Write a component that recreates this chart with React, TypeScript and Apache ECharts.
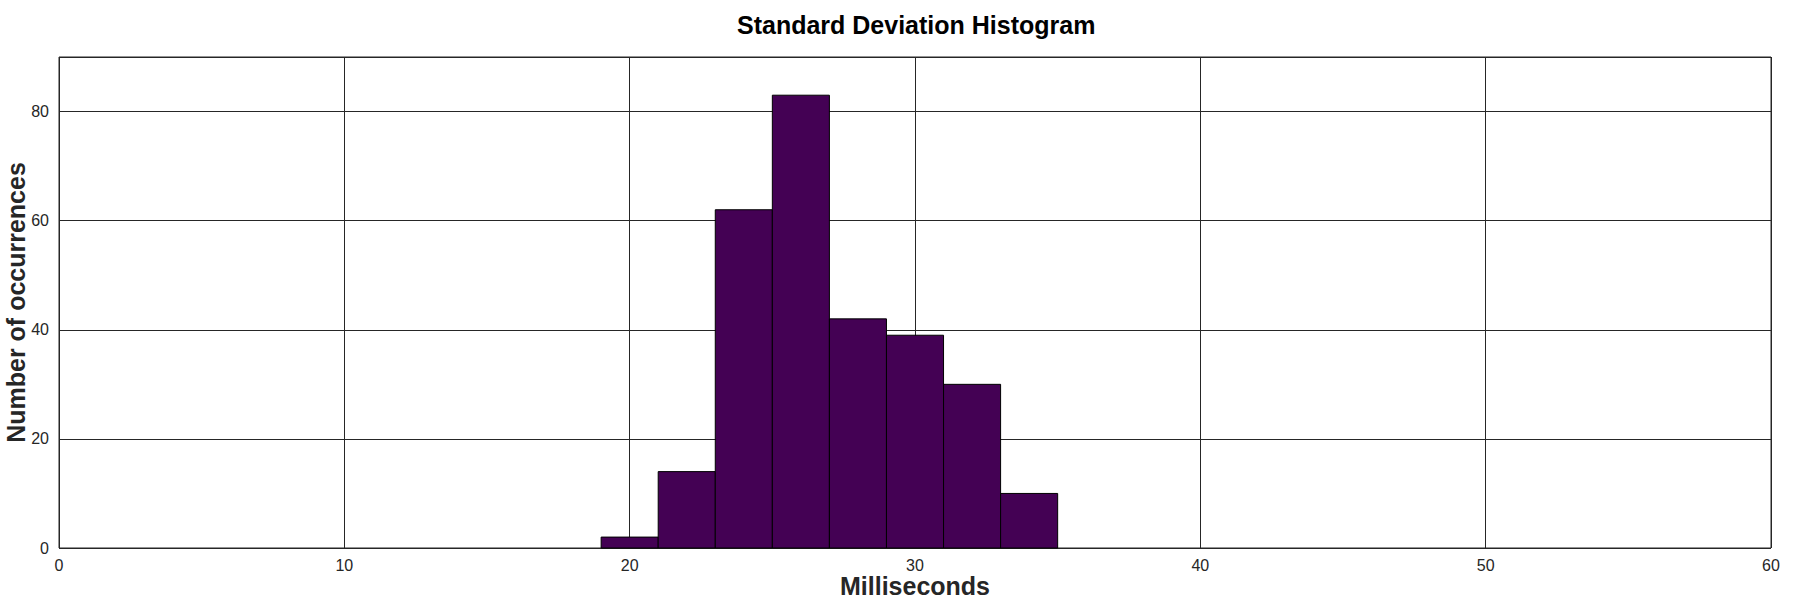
import React, { useEffect, useRef } from "react";
import * as echarts from "echarts";

const binStarts: number[] = [19, 21, 23, 25, 27, 29, 31, 33];
const binEnds: number[] = [21, 23, 25, 27, 29, 31, 33, 35];
const counts: number[] = [2, 14, 62, 83, 42, 39, 30, 10];

const titleText = "Standard Deviation Histogram";
const xName = "Milliseconds";
const yName = "Number of occurrences";

const FONT = '"Liberation Sans", Arial, Helvetica, sans-serif';

export default function App() {
  const ref = useRef<HTMLDivElement>(null);

  useEffect(() => {
    document.body.style.margin = "0";
    if (!ref.current) return;
    const chart = echarts.init(ref.current, undefined, { renderer: "svg" });
    const data = binStarts.map((s, i) => [s, binEnds[i], counts[i]]);
    chart.setOption({
      animation: false,
      backgroundColor: "#ffffff",
      textStyle: { fontFamily: FONT },
      title: {
        text: titleText,
        left: 737,
        top: 12,
        padding: 0,
        textStyle: { fontSize: 25, fontWeight: "bold", color: "#000000", fontFamily: FONT },
      },
      grid: {
        left: 59,
        right: 29,
        top: 57,
        bottom: 52,
        show: true,
        borderColor: "#262626",
        borderWidth: 1,
        backgroundColor: "#ffffff",
        outerBoundsMode: "none",
        containLabel: false,
      },
      xAxis: {
        type: "value",
        min: 0,
        max: 60,
        interval: 10,
        name: xName,
        nameLocation: "middle",
        nameGap: 25,
        nameMoveOverlap: false,
        nameTextStyle: { fontSize: 25, fontWeight: "bold", color: "#262626", fontFamily: FONT },
        axisLine: { show: false },
        axisTick: { show: false },
        axisLabel: { fontSize: 16, color: "#262626", margin: 9, fontFamily: FONT },
        splitLine: { show: true, lineStyle: { color: "#262626", width: 1 } },
      },
      yAxis: {
        type: "value",
        min: 0,
        max: 90,
        interval: 20,
        name: yName,
        nameLocation: "middle",
        nameGap: 31,
        nameMoveOverlap: false,
        nameTextStyle: { fontSize: 25, fontWeight: "bold", color: "#262626", fontFamily: FONT },
        axisLine: { show: false },
        axisTick: { show: false },
        axisLabel: { fontSize: 16, color: "#262626", margin: 10, showMaxLabel: false, fontFamily: FONT },
        splitLine: { show: true, lineStyle: { color: "#262626", width: 1 } },
      },
      series: [
        {
          type: "custom",
          data,
          encode: { x: [0, 1], y: 2 },
          renderItem: (params: any, api: any) => {
            const p0 = api.coord([api.value(0), api.value(2)]);
            const p1 = api.coord([api.value(1), 0]);
            return {
              type: "rect",
              shape: { x: p0[0], y: p0[1], width: p1[0] - p0[0], height: p1[1] - p0[1] },
              style: { fill: "#440154", stroke: "#000000", lineWidth: 1 },
            };
          },
        },
      ],
    });
    return () => chart.dispose();
  }, []);

  return <div ref={ref} style={{ width: 1800, height: 600 }} />;
}
